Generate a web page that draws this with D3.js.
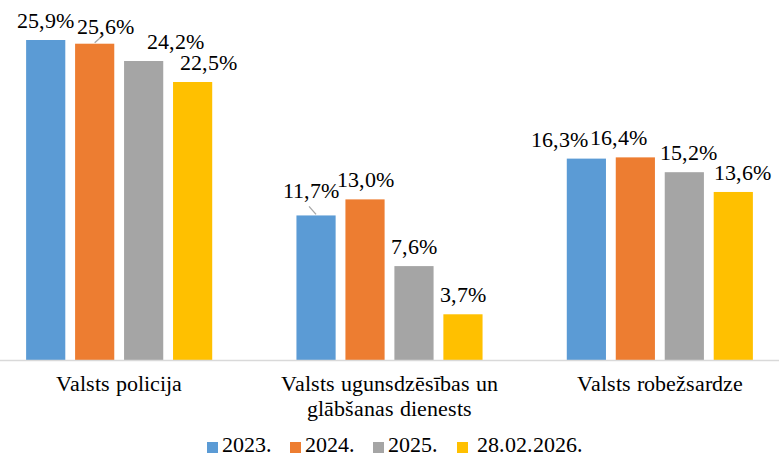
<!DOCTYPE html>
<html>
<head>
<meta charset="utf-8">
<script src="https://cdn.jsdelivr.net/npm/d3@7"></script>
<style>
	@font-face { font-family: 'ChartSerif'; src: local('Liberation Serif'), local('LiberationSerif'), local('LiberationSerif-Regular'), local('Times New Roman'); }
	body { margin: 0; }
	#chart text { font-family: 'ChartSerif', 'Liberation Serif', 'Times New Roman', serif; }
</style>
</head>
<body>
<svg id="chart" width="779" height="456"></svg>
<script>
var categories = [["Valsts policija"], ["Valsts ugunsdzēsības un", "glābšanas dienests"], ["Valsts robežsardze"]];
var seriesNames = ["2023.", "2024.", "2025.", "28.02.2026."];
var values2023 = [25.9, 11.7, 16.3];
var values2024 = [25.6, 13.0, 16.4];
var values2025 = [24.2, 7.6, 15.2];
var values2026 = [22.5, 3.7, 13.6];
var colors = ["#5B9BD5", "#ED7D31", "#A5A5A5", "#FFC000"];

// label nudges (px) where excel moved labels to avoid overlap: [series][category] -> [dx, dy]
var labelNudge = [
	[[0, 0], [-5, -5], [-27, 0]],
	[[11, 2], [0, 0], [-17, 0]],
	[[32, 0], [0, 0], [4, 0]],
	[[16, 0], [0, 0], [9, 0]]
];
// leader lines drawn for these labels: [series, category]
var leaders = [[1, 0], [0, 1]];

var allValues = [values2023, values2024, values2025, values2026];
var FS = 22;

var svg = d3.select('#chart');
var baseY = 360;

var x0 = d3.scaleBand()
	.domain(d3.range(categories.length))
	.range([-16, 795]);
var x1 = d3.scaleBand()
	.domain(d3.range(seriesNames.length))
	.range([0, x0.bandwidth()])
	.paddingInner(0.2)
	.paddingOuter(0.86);
var y = d3.scaleLinear()
	.domain([0, 25.9])
	.range([baseY, 40]);

var fmt = function(v) { return v.toFixed(1).replace('.', ',') + '%'; };

// bars
allValues.forEach(function(vals, s) {
	svg.append('g').selectAll('rect')
		.data(vals)
		.enter().append('rect')
		.attr('x', function(d, c) { return x0(c) + x1(s); })
		.attr('width', x1.bandwidth())
		.attr('y', function(d) { return y(d); })
		.attr('height', function(d) { return baseY - y(d); })
		.attr('fill', colors[s]);
});

// leader lines
leaders.forEach(function(l) {
	var s = l[0], c = l[1];
	var v = allValues[s][c];
	var bx = x0(c) + x1(s) + x1.bandwidth() / 2;
	var lx = bx + labelNudge[s][c][0];
	svg.append('line')
		.attr('x1', bx)
		.attr('y1', y(v) - 1)
		.attr('x2', bx + (lx > bx ? 9 : -7))
		.attr('y2', y(v) - 9)
		.style('stroke', '#a6a6a6')
		.style('stroke-width', 1.3);
});

// axis line
svg.append('line')
	.attr('x1', 0).attr('x2', 779)
	.attr('y1', baseY + 0.5).attr('y2', baseY + 0.5)
	.style('stroke', '#d9d9d9')
	.style('stroke-width', 1.5);

// value labels
allValues.forEach(function(vals, s) {
	vals.forEach(function(v, c) {
		svg.append('text')
			.attr('x', x0(c) + x1(s) + x1.bandwidth() / 2 + labelNudge[s][c][0])
			.attr('y', y(v) - 12 + labelNudge[s][c][1])
			.attr('font-size', FS)
			.attr('text-anchor', 'middle')
			.text(fmt(v));
	});
});

// category labels
categories.forEach(function(lines, i) {
	lines.forEach(function(line, j) {
		svg.append('text')
			.attr('x', x0(i) + x0.bandwidth() / 2)
			.attr('y', 391 + j * 25)
			.attr('font-size', FS)
			.attr('text-anchor', 'middle')
			.text(line);
	});
});

// legend
var legendX = [207, 290, 373, 457];
seriesNames.forEach(function(name, i) {
	svg.append('rect')
		.attr('x', legendX[i]).attr('y', 442)
		.attr('width', 11).attr('height', 11)
		.attr('fill', colors[i]);
	svg.append('text')
		.attr('x', legendX[i] + (i == 3 ? 20 : 15))
		.attr('y', 452)
		.attr('font-size', FS)
		.text(name);
});
</script>
</body>
</html>
